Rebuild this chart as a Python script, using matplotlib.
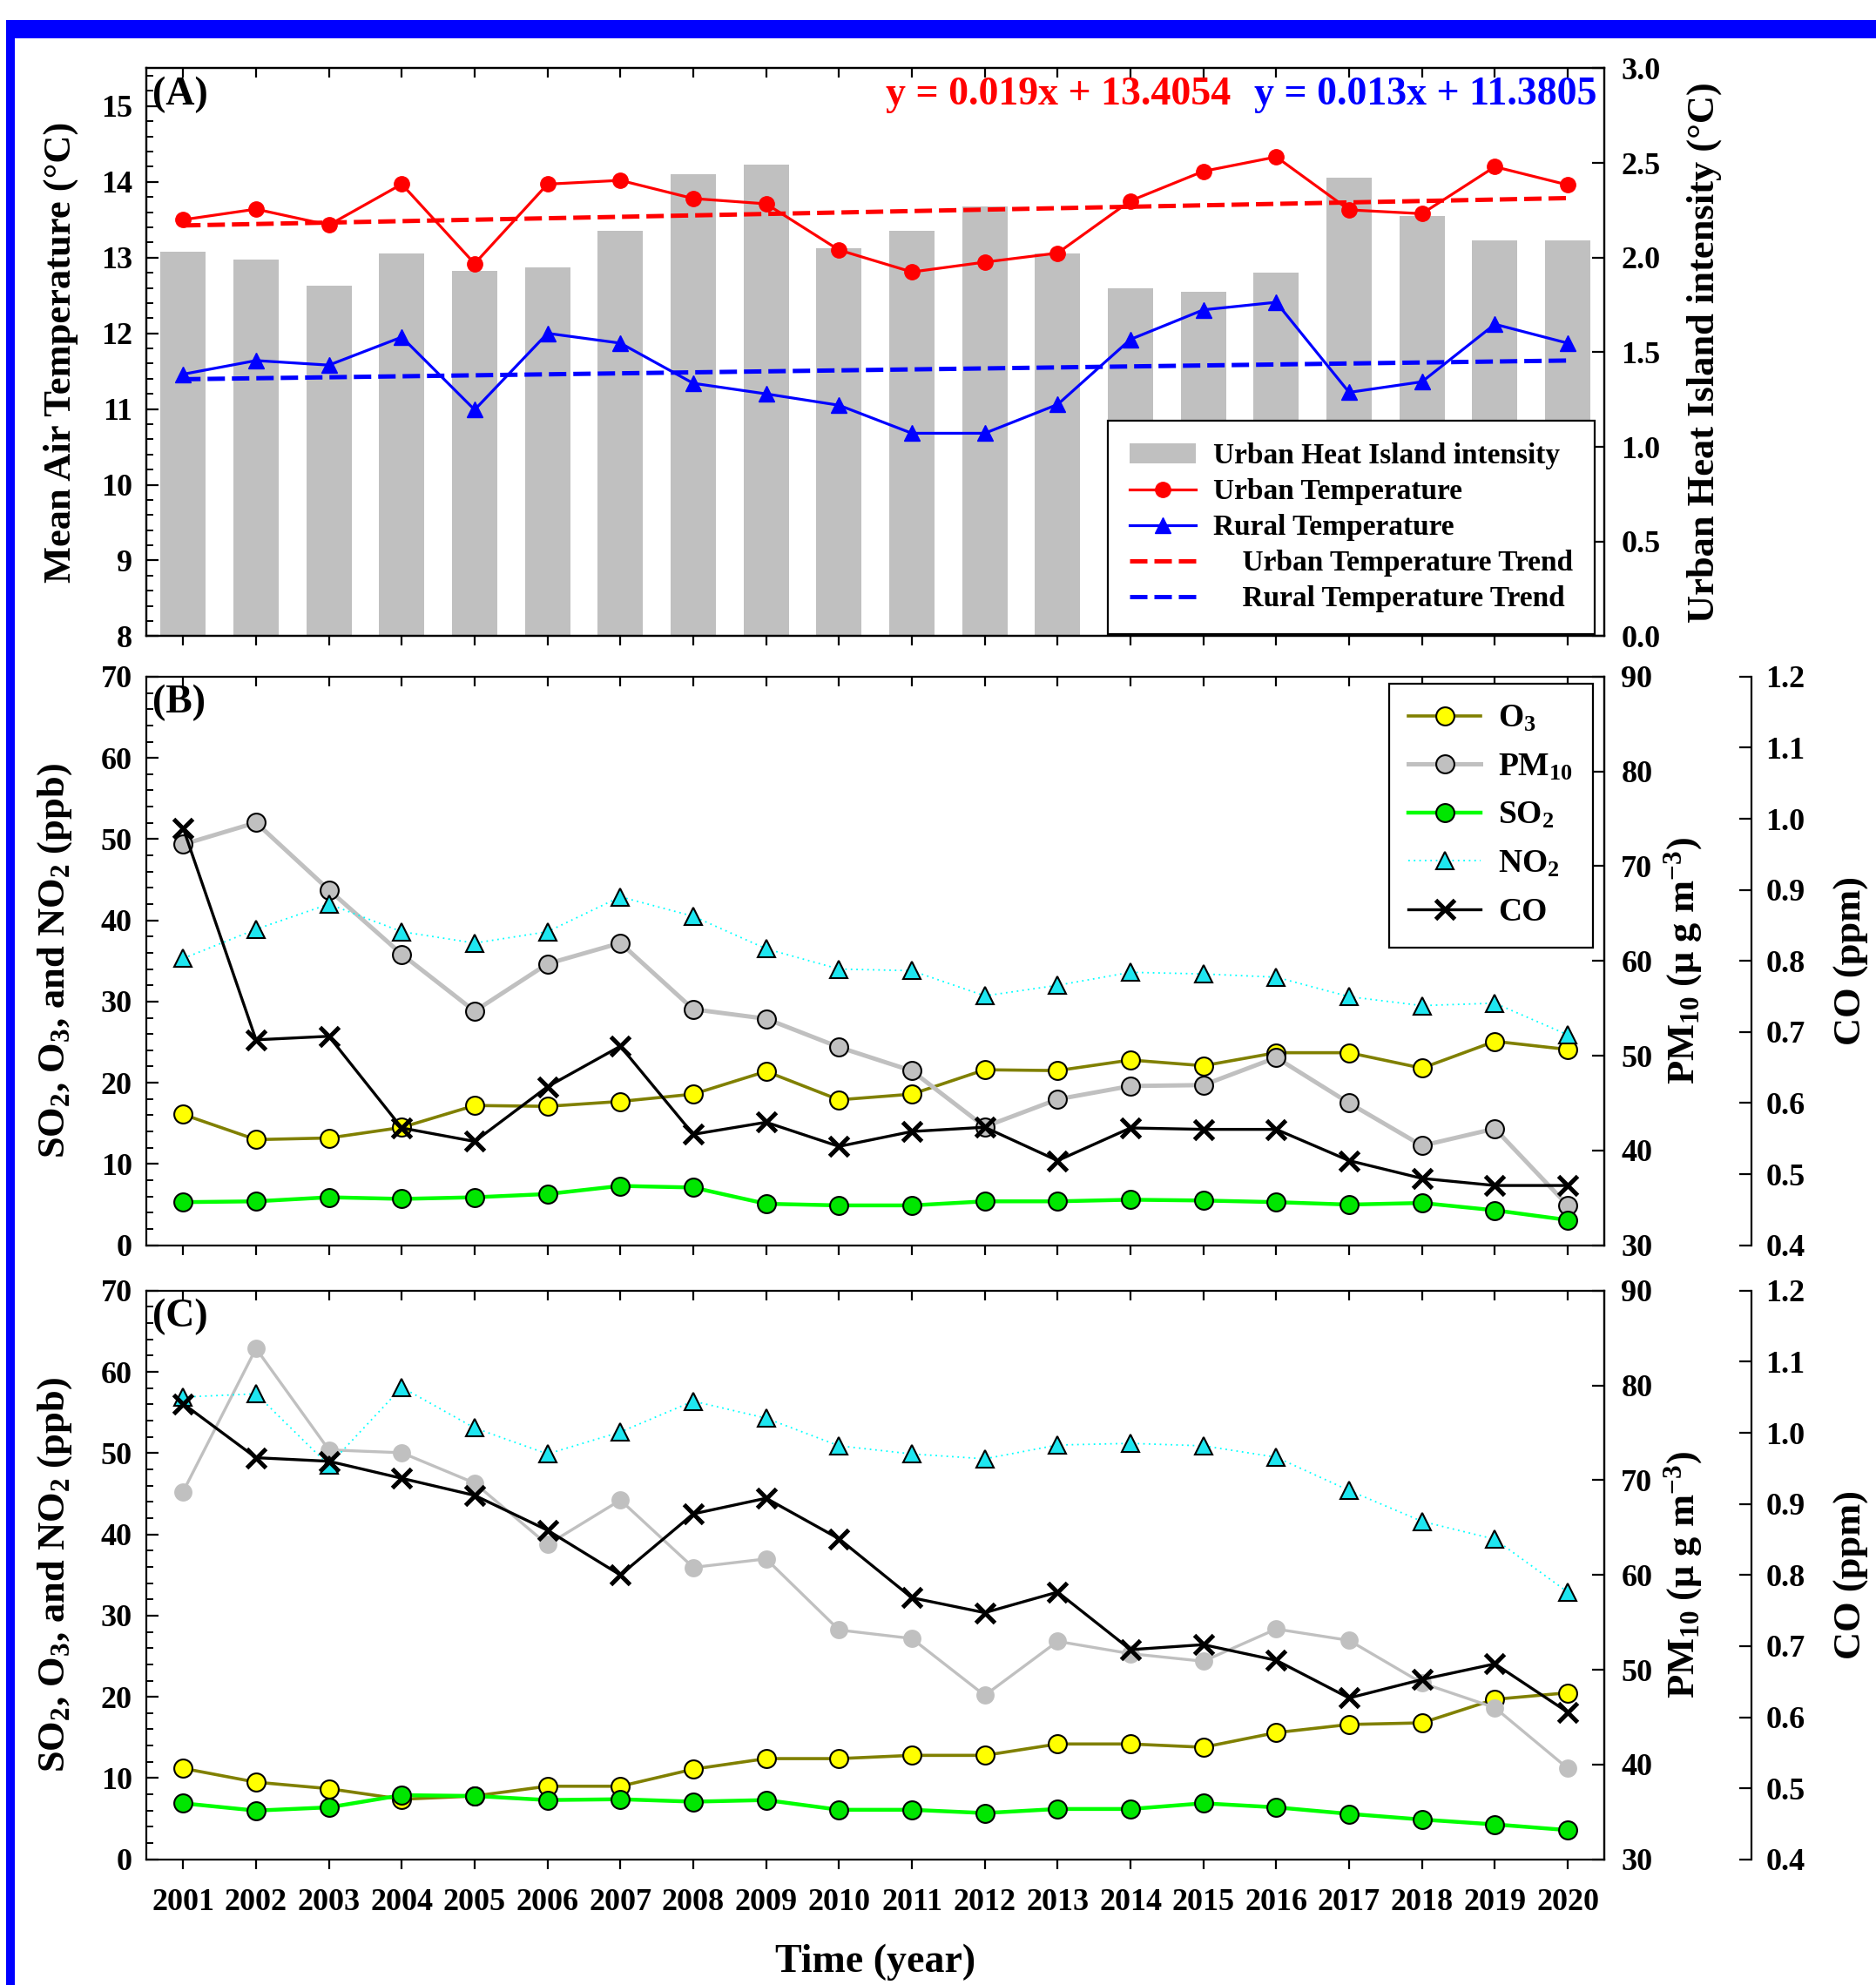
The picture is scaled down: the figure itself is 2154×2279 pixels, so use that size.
import numpy as np
import matplotlib
matplotlib.use('Agg')
import matplotlib.pyplot as plt
from matplotlib.patches import Rectangle, Patch
from matplotlib.lines import Line2D
from matplotlib.ticker import MultipleLocator, FormatStrFormatter

# ---------------- data ----------------
years = list(range(2001, 2021))
year_labels = [str(y) for y in years]

# Panel A
urban_temp = [13.50, 13.64, 13.43, 13.97, 12.92, 13.97, 14.02, 13.78, 13.71, 13.10,
              12.81, 12.94, 13.06, 13.75, 14.14, 14.33, 13.63, 13.58, 14.20, 13.96]
rural_temp = [11.46, 11.64, 11.58, 11.95, 10.99, 12.00, 11.87, 11.34, 11.20, 11.05,
              10.68, 10.68, 11.06, 11.92, 12.31, 12.41, 11.22, 11.36, 12.12, 11.87]
uhi_intensity = [2.03, 1.99, 1.85, 2.02, 1.93, 1.95, 2.14, 2.44, 2.49, 2.05,
                 2.14, 2.27, 2.02, 1.84, 1.82, 1.92, 2.42, 2.22, 2.09, 2.09]
trend_slope = {'urban': 0.019, 'rural': 0.013}
trend_intercept = {'urban': 13.4054, 'rural': 11.3805}
trend_index = [1, 20]          # x = 1 for 2001 ... 20 for 2020
trend_years = [2001, 2020]

# Panel B
o3_b = [16.1, 13.0, 13.2, 14.5, 17.2, 17.1, 17.7, 18.6, 21.4, 17.9,
        18.6, 21.6, 21.5, 22.8, 22.1, 23.7, 23.7, 21.8, 25.1, 24.1]
pm10_b = [72.3, 74.6, 67.5, 60.7, 54.7, 59.7, 61.9, 54.9, 53.9, 50.9,
          48.4, 42.5, 45.4, 46.8, 46.9, 49.8, 45.0, 40.5, 42.3, 34.2]
so2_b = [5.3, 5.4, 5.9, 5.7, 5.9, 6.3, 7.3, 7.1, 5.1, 4.9,
         4.9, 5.4, 5.4, 5.6, 5.5, 5.3, 5.0, 5.2, 4.3, 3.1]
no2_b = [35.3, 38.9, 42.0, 38.6, 37.2, 38.6, 42.9, 40.5, 36.5, 34.0,
         33.8, 30.7, 32.0, 33.6, 33.4, 33.0, 30.6, 29.5, 29.8, 25.9]
co_b = [0.987, 0.689, 0.694, 0.565, 0.546, 0.623, 0.680, 0.556, 0.573, 0.539,
        0.560, 0.566, 0.519, 0.565, 0.563, 0.563, 0.519, 0.494, 0.484, 0.484]

# Panel C
o3_c = [11.2, 9.5, 8.7, 7.4, 7.8, 9.0, 9.0, 11.1, 12.4, 12.4,
        12.8, 12.8, 14.2, 14.2, 13.8, 15.6, 16.6, 16.8, 19.7, 20.5]
pm10_c = [68.8, 83.9, 73.2, 72.9, 69.7, 63.2, 67.9, 60.8, 61.7, 54.2,
          53.3, 47.3, 53.0, 51.7, 50.9, 54.3, 53.1, 48.6, 46.0, 39.6]
so2_c = [6.9, 6.0, 6.4, 7.9, 7.8, 7.3, 7.4, 7.1, 7.3, 6.1,
         6.1, 5.7, 6.2, 6.2, 6.9, 6.4, 5.6, 4.9, 4.3, 3.6]
no2_c = [56.9, 57.3, 48.5, 58.1, 53.1, 49.9, 52.6, 56.4, 54.3, 50.9,
         49.9, 49.3, 51.0, 51.2, 50.9, 49.5, 45.4, 41.6, 39.4, 32.9]
co_c = [1.041, 0.965, 0.960, 0.936, 0.912, 0.863, 0.800, 0.886, 0.908, 0.851,
        0.768, 0.747, 0.776, 0.695, 0.702, 0.680, 0.627, 0.653, 0.675, 0.607]

# ---------------- style ----------------
plt.rcParams['font.family'] = ['Liberation Serif', 'DejaVu Serif']
plt.rcParams['font.weight'] = 'bold'
plt.rcParams['axes.labelweight'] = 'bold'
plt.rcParams['font.size'] = 26
plt.rcParams['mathtext.fontset'] = 'custom'
plt.rcParams['mathtext.rm'] = 'Liberation Serif:bold'
plt.rcParams['mathtext.bf'] = 'Liberation Serif:bold'
plt.rcParams['mathtext.it'] = 'Liberation Serif:bold:italic'
plt.rcParams['mathtext.default'] = 'bf'
plt.rcParams['axes.linewidth'] = 1.6

TICK_FS = 26
LABEL_FS = 32

fig = plt.figure(figsize=(21.54, 22.79), dpi=100)
fig.patch.set_facecolor('white')

# blue frame pieces (figure decoration)
W_PX, H_PX = 2154.0, 2279.0
fig.add_artist(Rectangle((7 / W_PX, 1 - 44.3 / H_PX), 1 - 7 / W_PX, 21 / H_PX,
                         transform=fig.transFigure, color='#0000ff', lw=0, zorder=0))
fig.add_artist(Rectangle((7 / W_PX, 0), 10.3 / W_PX, 1 - 23.3 / H_PX,
                         transform=fig.transFigure, color='#0000ff', lw=0, zorder=0))

L, WD = 0.0782, 0.7769
axA = fig.add_axes([L, 0.6795, WD, 0.2861])
axB = fig.add_axes([L, 0.3727, WD, 0.2864])
axC = fig.add_axes([L, 0.0633, WD, 0.2865])


def style_x(ax, top_ax, labels):
    ax.set_xlim(2000.5, 2020.5)
    ax.set_xticks(years)
    if labels:
        ax.set_xticklabels(year_labels)
    ax.tick_params(axis='x', which='major', direction='out', length=8, width=1.6,
                   top=False, bottom=True, labelbottom=labels, labelsize=TICK_FS, pad=16)
    ax.tick_params(axis='x', which='minor', bottom=False, top=False)
    top_ax.xaxis.set_visible(True)
    top_ax.set_xticks(years)
    top_ax.tick_params(axis='x', which='major', direction='in', length=8, width=1.6,
                       top=True, bottom=False, labeltop=False, labelbottom=False)


# ---------------- Panel A ----------------
axA2 = axA.twinx()
bars = axA2.bar(years, uhi_intensity, width=0.62, color='#c0c0c0', lw=0,
                label='Urban Heat Island intensity')
axA.set_zorder(axA2.get_zorder() + 1)
axA.patch.set_visible(False)

lu, = axA.plot(years, urban_temp, color='red', marker='o', ms=12.5, lw=2.3,
               label='Urban Temperature', zorder=4)
lr, = axA.plot(years, rural_temp, color='blue', marker='^', ms=13.5, lw=2.3,
               label='Rural Temperature', zorder=4)
tu_y = [trend_slope['urban'] * i + trend_intercept['urban'] for i in trend_index]
tr_y = [trend_slope['rural'] * i + trend_intercept['rural'] for i in trend_index]
ltu, = axA.plot(trend_years, tu_y, color='red', lw=3.6, dashes=(4, 1.6),
                label='Urban Temperature Trend', zorder=3)
ltr, = axA.plot(trend_years, tr_y, color='blue', lw=3.6, dashes=(4, 1.6),
                label='Rural Temperature Trend', zorder=3)

axA.set_ylim(8, 15.5)
axA.yaxis.set_major_locator(MultipleLocator(1))
axA.yaxis.set_minor_locator(MultipleLocator(0.2))
axA.tick_params(axis='y', which='major', direction='in', length=10, width=1.6,
                labelsize=TICK_FS, pad=12)
axA.tick_params(axis='y', which='minor', direction='in', length=6, width=1.4)
axA2.set_ylim(0, 3.0)
axA2.yaxis.set_major_locator(MultipleLocator(0.5))
axA2.yaxis.set_major_formatter(FormatStrFormatter('%.1f'))
axA2.tick_params(axis='y', which='major', direction='in', length=10, width=1.6,
                 labelsize=TICK_FS, pad=14)
style_x(axA, axA2, False)

axA.set_ylabel('Mean Air Temperature (\u00b0C)', fontsize=LABEL_FS)
axA.yaxis.set_label_coords(-0.047, 0.5)
axA2.set_ylabel('Urban Heat Island intensity (\u00b0C)', fontsize=LABEL_FS)
axA2.yaxis.set_label_coords(1.0568, 0.5)

axA.text(0.004, 0.953, '(A)', transform=axA.transAxes, fontsize=33,
         ha='left', va='center')
axA.text(0.7437, 0.953, 'y = 0.019x + 13.4054', transform=axA.transAxes,
         fontsize=33, color='red', ha='right', va='center')
axA.text(0.995, 0.953, 'y = 0.013x + 11.3805', transform=axA.transAxes,
         fontsize=33, color='blue', ha='right', va='center')

legA = axA.legend([bars, lu, lr, ltu, ltr],
                  ['Urban Heat Island intensity', 'Urban Temperature', 'Rural Temperature',
                   '    Urban Temperature Trend', '    Rural Temperature Trend'],
                  loc='lower right', bbox_to_anchor=(0.9937, 0.003), fontsize=24,
                  frameon=True, fancybox=False, edgecolor='black', framealpha=1,
                  handlelength=2.3, handletextpad=0.6, labelspacing=0.3,
                  borderpad=0.75, borderaxespad=0, numpoints=1)
legA.get_frame().set_linewidth(1.6)


# ---------------- Panels B and C ----------------
def pollutant_panel(ax, o3, pm10, so2, no2, co, pm_edge, pm_lw, letter,
                    legend, xlabels):
    ax_pm = ax.twinx()
    ax_top = ax.twinx()
    ax_top.sharey(ax)
    ax_top.yaxis.set_visible(False)
    ax_co = ax.twinx()
    ax_co.spines['right'].set_position(('axes', 1.101))

    ax.set_zorder(1)
    ax_pm.set_zorder(2)
    ax_top.set_zorder(3)
    ax_co.set_zorder(4)
    for a in (ax, ax_pm, ax_top, ax_co):
        a.patch.set_visible(False)
    for a in (ax_pm, ax_top, ax_co):
        for s in ('left', 'top', 'bottom'):
            a.spines[s].set_visible(False)
    ax_top.spines['right'].set_visible(False)
    ax_co.spines['right'].set_linewidth(1.6)

    h_o3, = ax.plot(years, o3, color='#808000', lw=2.6, marker='o', ms=15,
                    mfc='#ffff00', mec='black', mew=1.5, label='O$_3$')
    if pm_edge:
        h_pm, = ax_pm.plot(years, pm10, color='#c0c0c0', lw=pm_lw, marker='o', ms=15,
                           mfc='#c0c0c0', mec='black', mew=1.5, label='PM$_{10}$')
    else:
        h_pm, = ax_pm.plot(years, pm10, color='#c0c0c0', lw=pm_lw, marker='o', ms=15,
                           mfc='#c0c0c0', mec='#c0c0c0', mew=0, label='PM$_{10}$')
    h_so2, = ax_top.plot(years, so2, color='#00ff00', lw=3.2, marker='o', ms=15,
                         mfc='#00e600', mec='black', mew=1.5, label='SO$_2$')
    h_no2, = ax_top.plot(years, no2, color='#00ffff', lw=1.3, linestyle=(0, (1, 2.5)),
                         marker='^', ms=15, mfc='#1ee6f0', mec='black', mew=1.5,
                         label='NO$_2$')
    h_co, = ax_co.plot(years, co, color='black', lw=2.4, marker='x', ms=16, mew=3.6,
                       label='CO')

    ax.set_ylim(0, 70)
    ax.yaxis.set_major_locator(MultipleLocator(10))
    ax.yaxis.set_minor_locator(MultipleLocator(2))
    ax.tick_params(axis='y', which='major', direction='in', length=10, width=1.6,
                   labelsize=TICK_FS, pad=12, right=False)
    ax.tick_params(axis='y', which='minor', direction='in', length=6, width=1.4,
                   right=False)

    ax_pm.set_ylim(30, 90)
    ax_pm.yaxis.set_major_locator(MultipleLocator(10))
    ax_pm.tick_params(axis='y', which='major', direction='in', length=10, width=1.6,
                      labelsize=TICK_FS, pad=14)

    ax_co.set_ylim(0.4, 1.2)
    ax_co.yaxis.set_major_locator(MultipleLocator(0.1))
    ax_co.yaxis.set_major_formatter(FormatStrFormatter('%.1f'))
    ax_co.tick_params(axis='y', which='major', direction='in', length=10, width=1.6,
                      labelsize=TICK_FS, pad=12)

    style_x(ax, ax_co, xlabels)

    ax.set_ylabel('SO$_2$, O$_3$, and NO$_2$ (ppb)', fontsize=LABEL_FS)
    ax.yaxis.set_label_coords(-0.050, 0.5)
    ax_pm.set_ylabel('PM$_{10}$ (\u03bc g m$^{-3}$)', fontsize=LABEL_FS)
    ax_pm.yaxis.set_label_coords(1.040, 0.5)
    ax_co.set_ylabel('CO (ppm)', fontsize=LABEL_FS)
    ax_co.yaxis.set_label_coords(1.1575, 0.5)

    ax.text(0.004, 0.954, letter, transform=ax.transAxes, fontsize=33,
            ha='left', va='center')

    if legend:
        leg = ax_co.legend([h_o3, h_pm, h_so2, h_no2, h_co],
                           ['O$_3$', 'PM$_{10}$', 'SO$_2$', 'NO$_2$', 'CO'],
                           loc='upper right', bbox_to_anchor=(0.9922, 0.9874),
                           fontsize=27, frameon=True, fancybox=False,
                           edgecolor='black', framealpha=1, handlelength=2.2,
                           handletextpad=0.55, labelspacing=0.55, borderpad=0.6,
                           borderaxespad=0, numpoints=1)
        leg.get_frame().set_linewidth(1.6)
    return ax_co


pollutant_panel(axB, o3_b, pm10_b, so2_b, no2_b, co_b, True, 3.6, '(B)', True, False)
pollutant_panel(axC, o3_c, pm10_c, so2_c, no2_c, co_c, False, 2.4, '(C)', False, True)

axC.set_xlabel('Time (year)', fontsize=33)
axC.xaxis.set_label_coords(0.5, -0.148)

fig.savefig('out.png', dpi=100, facecolor='white')
